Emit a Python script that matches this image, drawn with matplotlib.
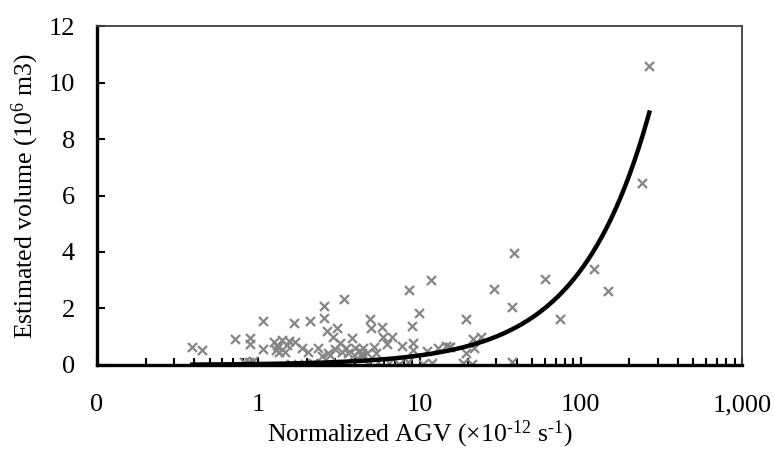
import numpy as np
import matplotlib.pyplot as plt
from matplotlib.ticker import FixedLocator, LogLocator, NullFormatter

plt.rcParams['font.family'] = ['Liberation Serif', 'DejaVu Serif']
plt.rcParams['mathtext.fontset'] = 'custom'
plt.rcParams['mathtext.rm'] = 'Liberation Serif'
plt.rcParams['mathtext.it'] = 'Liberation Serif:italic'

# Normalized AGV (x1e-12 s-1) and estimated volume (1e6 m3)
agv = [0.39, 0.45, 0.72, 0.89, 0.89, 1.07, 1.07, 1.30, 1.29, 0.82, 0.88, 0.93,
       1.40, 1.33, 1.50, 1.46, 1.67, 1.86, 2.04, 2.10, 2.36, 2.57, 2.57, 2.66,
       2.71, 2.92, 3.06, 3.22, 3.31, 3.42, 3.61, 3.79, 4.0, 4.4, 1.6, 1.95, 2.2,
       4.49, 5.2, 5.4, 4.7, 4.4, 4.93, 4.97, 5.83, 5.93, 6.77, 6.25, 7.74, 9.07,
       8.65, 8.95, 9.98, 11.8, 11.1, 13.1, 14.6, 15.2, 4.8, 5.5, 6.5, 7.5, 8.5,
       10.5, 12.0, 19.3, 24.0, 21.6, 21.9, 19.5, 18.7, 21.2, 29.1, 38.7, 37.7,
       37.2, 60, 74, 121, 148, 239, 266,
       1.25, 1.55, 1.35, 3.0, 3.5, 2.8, 4.2, 3.9, 9.1, 15.5, 1.7, 2.5]
volume = [0.63, 0.53, 0.92, 0.95, 0.75, 1.56, 0.56, 0.71, 0.53, 0.12, 0.10, 0.14,
          0.89, 0.65, 0.71, 0.47, 1.48, 0.59, 0.47, 1.54, 0.59, 2.09, 1.66, 1.22,
          0.41, 1.00, 1.30, 0.77, 0.47, 2.33, 0.41, 0.95, 0.59, 0.41, 0.05, 0.02, 0.08,
          0.59, 0.65, 0.41, 0.41, 0.30, 1.62, 1.30, 1.34, 1.00, 0.98, 0.75, 0.67, 0.77,
          2.64, 1.38, 1.83, 3.02, 0.51, 0.59, 0.67, 0.65, 0.05, 0.10, 0.08, 0.05, 0.10,
          0.05, 0.08, 1.62, 0.98, 0.91, 0.59, 0.44, 0.08, 0.04, 2.70, 3.96, 2.04,
          0.12, 3.04, 1.62, 3.40, 2.63, 6.45, 10.59,
          0.80, 0.85, 0.45, 0.55, 0.60, 0.35, 0.50, 0.35, 0.53, 0.64, 0.80, 0.30]

# linear trend line (volume = slope * AGV)
slope = 0.0336

x_ticks = [0.1, 1, 10, 100, 1000]
x_tick_labels = ['0', '1', '10', '100', '1,000']
y_ticks = [0, 2, 4, 6, 8, 10, 12]

fig = plt.figure(figsize=(7.74, 4.5), dpi=100)
ax = fig.add_axes([0.1253, 0.189, 0.8334, 0.753])

ax.scatter(agv, volume, marker='x', s=42, color='#858585', linewidths=1.6, zorder=2)

trend_x = np.geomspace(min(agv), max(agv), 300)
ax.plot(trend_x, slope * trend_x, color='black', lw=3.2, zorder=3)

ax.set_xscale('log')
ax.set_xlim(0.1, 1000)
ax.set_ylim(0, 12)
ax.xaxis.set_major_locator(FixedLocator(x_ticks))
ax.set_xticklabels(x_tick_labels)
ax.xaxis.set_minor_locator(LogLocator(base=10, subs=np.arange(2, 10)))
ax.xaxis.set_minor_formatter(NullFormatter())
ax.set_yticks(y_ticks)

ax.tick_params(axis='both', which='both', direction='in', labelsize=19, color='black')
ax.tick_params(axis='x', which='major', length=6, width=1.5, pad=21)
ax.tick_params(axis='x', which='minor', length=5, width=1.5)
ax.tick_params(axis='y', which='major', length=6, width=1.5, pad=16)
ax.tick_params(axis='y', which='minor', left=False)

for side in ['left', 'bottom']:
    ax.spines[side].set_linewidth(2.4)
    ax.spines[side].set_color('black')
for side in ['top', 'right']:
    ax.spines[side].set_linewidth(1.3)
    ax.spines[side].set_color('#404040')

ax.set_xlabel('Normalized AGV (×10$^{\u201012}$ s$^{\u20101}$)', fontsize=18.5, labelpad=2)
ax.set_ylabel(r'Estimated volume (10$^{6}$ m3)', fontsize=18.5, labelpad=5)

fig.savefig('out.png', dpi=100)
